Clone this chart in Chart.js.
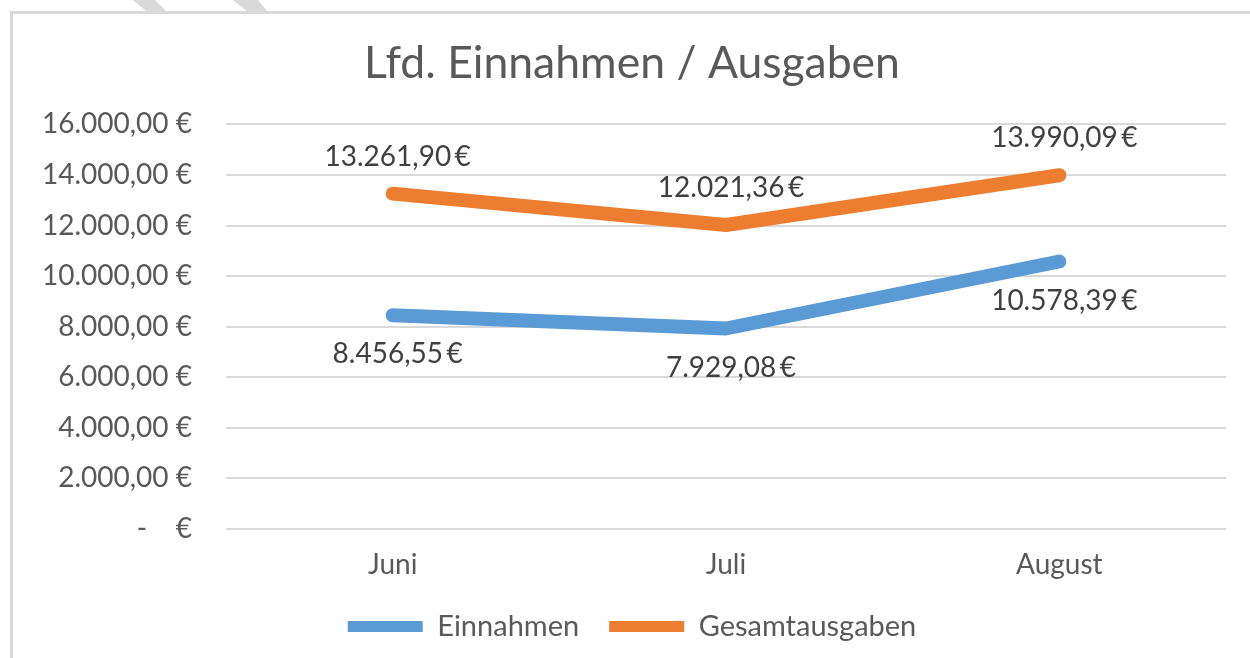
<!DOCTYPE html>
<html>
<head>
<meta charset="utf-8">
<script src="https://cdn.jsdelivr.net/npm/chart.js@4/dist/chart.umd.min.js"></script>
<style>
  html, body { margin: 0; padding: 0; background: #ffffff; }
  body { width: 1250px; height: 658px; position: relative; overflow: hidden; }
  #deko { position: absolute; left: 0; top: 0; }
  #rahmen {
    position: absolute; left: 10px; top: 11px; width: 1300px; height: 700px;
    border-left: 3px solid #d9d9d9; border-top: 3px solid #d9d9d9; background: #ffffff;
  }
  #wrap { position: absolute; left: 0; top: 0; width: 1250px; height: 658px; }
</style>
</head>
<body>
<svg id="deko" width="1250" height="14">
  <polygon points="133,0 155,0 167,12 147,12" fill="#d9d9d9"/>
  <polygon points="233,0 258,0 268,12 248,12" fill="#d9d9d9"/>
</svg>
<div id="rahmen"></div>
<div id="wrap"><canvas id="chartLfd" width="1250" height="658"></canvas></div>
<script>
// Daten
const monate = ['Juni', 'Juli', 'August'];
const einnahmen = [8456.55, 7929.08, 10578.39];
const gesamtausgaben = [13261.90, 12021.36, 13990.09];
const yTicks = [0, 2000, 4000, 6000, 8000, 10000, 12000, 14000, 16000];
const yTickLabels = ['-    €', '2.000,00 €', '4.000,00 €', '6.000,00 €', '8.000,00 €',
                     '10.000,00 €', '12.000,00 €', '14.000,00 €', '16.000,00 €'];

const FONT = 'Lato, "Open Sans", sans-serif';
const TEXT_GRAU = '#595959';

// Zahl im deutschen Format: 13.261,90 €
function euro(v) {
    const teile = v.toFixed(2).split('.');
    const ganz = teile[0].replace(/\B(?=(\d{3})+(?!\d))/g, '.');
    return `${ganz},${teile[1]}\u2009€`;
}

// Datenbeschriftungen (Chart.js hat kein eingebautes Label-Plugin)
const datenLabels = {
    id: 'datenLabels',
    afterDatasetsDraw(chart) {
        const ctx = chart.ctx;
        ctx.save();
        ctx.font = `28px ${FONT}`;
        ctx.fillStyle = '#404040';
        ctx.textAlign = 'center';
        ctx.textBaseline = 'middle';
        chart.data.datasets.forEach((ds, i) => {
            const meta = chart.getDatasetMeta(i);
            const versatz = ds.labelUnten ? 39 : -37;
            meta.data.forEach((pt, j) => {
                ctx.fillText(euro(ds.data[j]), pt.x + 5, pt.y + versatz);
            });
        });
        ctx.restore();
    }
};

const ctx = document.getElementById('chartLfd').getContext('2d');

new Chart(ctx, {
    type: 'line',
    data: {
        labels: monate,
        datasets: [
            {
                label: 'Einnahmen',
                data: einnahmen,
                borderColor: '#5b9bd5',
                backgroundColor: '#5b9bd5',
                borderWidth: 14,
                borderCapStyle: 'round',
                borderJoinStyle: 'round',
                pointRadius: 0,
                tension: 0,
                labelUnten: true
            },
            {
                label: 'Gesamtausgaben',
                data: gesamtausgaben,
                borderColor: '#ed7d31',
                backgroundColor: '#ed7d31',
                borderWidth: 14,
                borderCapStyle: 'round',
                borderJoinStyle: 'round',
                pointRadius: 0,
                tension: 0,
                labelUnten: false
            }
        ]
    },
    options: {
        responsive: false,
        animation: false,
        devicePixelRatio: 1,
        layout: { padding: { left: 38, right: 24, top: 0, bottom: 7 } },
        plugins: {
            title: {
                display: true,
                text: 'Lfd. Einnahmen / Ausgaben',
                color: TEXT_GRAU,
                font: { family: FONT, size: 44.5, weight: 'normal' },
                padding: { top: 37, bottom: 34 }
            },
            legend: {
                position: 'bottom',
                labels: {
                    color: TEXT_GRAU,
                    font: { family: FONT, size: 29 },
                    boxWidth: 75,
                    boxHeight: 11,
                    useBorderRadius: true,
                    borderRadius: 5.5,
                    padding: 30,
                    generateLabels: (chart) => chart.data.datasets.map((ds, i) => ({
                        text: ds.label,
                        fillStyle: ds.borderColor,
                        strokeStyle: ds.borderColor,
                        lineWidth: 0,
                        fontColor: TEXT_GRAU,
                        datasetIndex: i,
                        hidden: false
                    }))
                }
            },
            tooltip: { enabled: false }
        },
        scales: {
            x: {
                offset: true,
                grid: { display: false, drawTicks: false },
                border: { display: false },
                ticks: { color: TEXT_GRAU, font: { family: FONT, size: 28 }, padding: 19 },
                afterFit: (scale) => { scale.height = 53; }
            },
            y: {
                min: 0,
                max: 16000,
                afterBuildTicks: (scale) => { scale.ticks = yTicks.map(v => ({ value: v })); },
                grid: { color: '#d9d9d9', lineWidth: 2, drawTicks: false },
                border: { display: false },
                ticks: {
                    color: TEXT_GRAU,
                    font: { family: FONT, size: 28 },
                    padding: 34,
                    callback: (value, index) => yTickLabels[index]
                },
                afterFit: (scale) => { scale.width = 188; }
            }
        }
    },
    plugins: [datenLabels]
});
</script>
</body>
</html>
